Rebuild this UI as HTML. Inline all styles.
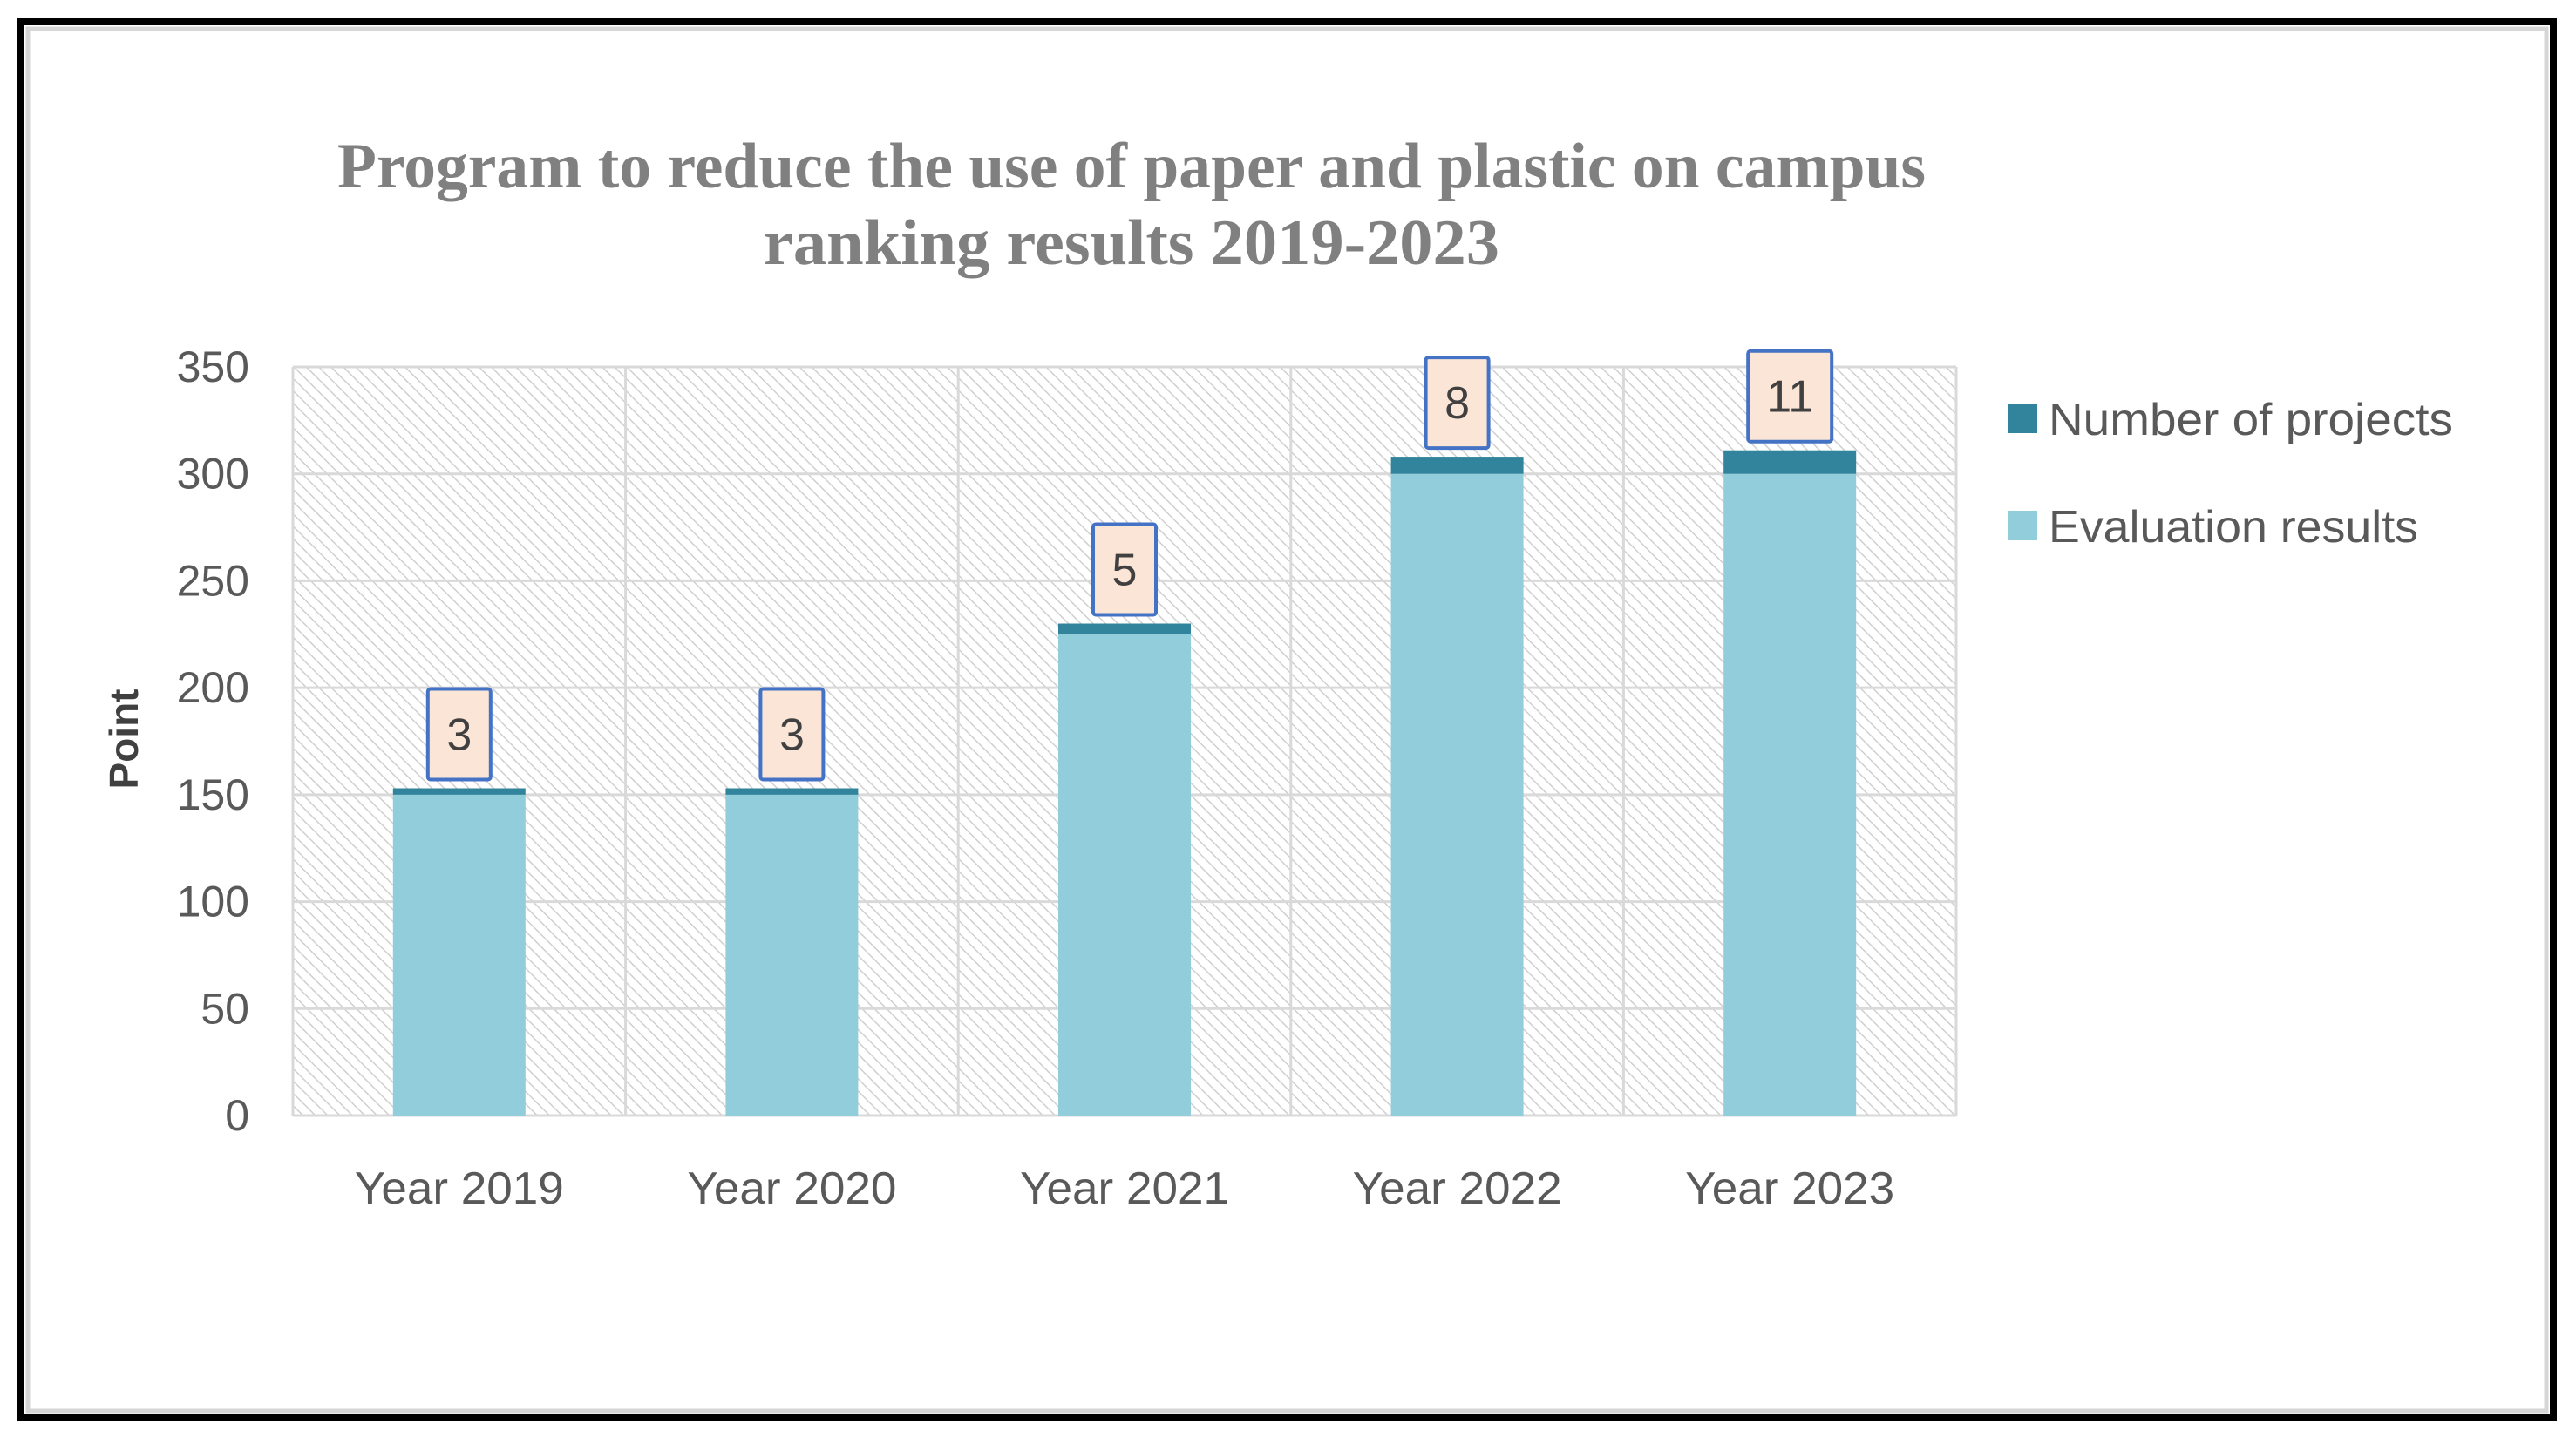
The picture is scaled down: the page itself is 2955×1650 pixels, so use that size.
<!DOCTYPE html>
<html><head><meta charset="utf-8"><style>
html,body{margin:0;padding:0;background:#fff;}
svg{display:block;}
</style></head><body>
<svg id="chart" width="2955" height="1650" viewBox="0 0 2955 1650" xmlns="http://www.w3.org/2000/svg">
<defs>
<pattern id="hatch" patternUnits="userSpaceOnUse" width="10" height="10" patternTransform="rotate(-45)">
<rect width="10" height="10" fill="#fff"/>
<line x1="0" y1="0" x2="0" y2="10" stroke="#cfcfcf" stroke-width="3"/>
</pattern>
</defs>
<rect x="24" y="25" width="2905" height="1602" fill="#fff" stroke="#000" stroke-width="8"/>
<rect x="32" y="33" width="2889" height="1586" fill="none" stroke="#d6d6d6" stroke-width="5"/>
<g font-family="'Liberation Serif', serif" font-weight="bold" font-size="74" fill="#808080" text-anchor="middle">
<text x="1298" y="215" textLength="1822" lengthAdjust="spacingAndGlyphs">Program to reduce the use of paper and plastic on campus</text>
<text x="1298" y="303" textLength="844" lengthAdjust="spacingAndGlyphs">ranking results 2019-2023</text>
</g>
<g id="plot"></g>
<text transform="translate(158,848) rotate(-90)" font-family="'Liberation Sans', sans-serif" font-weight="bold" font-size="46" fill="#404040" text-anchor="middle">Point</text>
<g font-family="'Liberation Sans', sans-serif" font-size="52" fill="#595959">
<g>
<rect x="2303" y="463" width="34" height="34" fill="#31849b"/>
<text x="2350" y="499" textLength="464" lengthAdjust="spacingAndGlyphs">Number of projects</text>
</g>
<g>
<rect x="2303" y="586" width="34" height="34" fill="#92cddc"/>
<text x="2350" y="622" textLength="424" lengthAdjust="spacingAndGlyphs">Evaluation results</text>
</g>
</g>
</svg>
<script>
const categories = ["Year 2019","Year 2020","Year 2021","Year 2022","Year 2023"];
const evaluationResults = [150,150,225,300,300];
const numberOfProjects = [3,3,5,8,11];
const yTicks = [0,50,100,150,200,250,300,350];

const NS = "http://www.w3.org/2000/svg";
const L = 336, R = 2244, T = 421, B = 1280, YMAX = 350;
const bw = (R - L) / categories.length;
const y = v => B - (v / YMAX) * (B - T);
const xc = i => L + bw * (i + 0.5);
const g = document.getElementById('plot');
function mk(tag, attrs, parent) {
  const e = document.createElementNS(NS, tag);
  for (const k in attrs) e.setAttribute(k, attrs[k]);
  (parent || g).appendChild(e);
  return e;
}
const bg = mk('rect', {x: L, y: T, width: R - L, height: B - T, fill: 'url(#hatch)'});


yTicks.forEach(t => {
  const ln = mk('line', {x1: L, x2: R, y1: y(t), y2: y(t), stroke: '#d9d9d9', 'stroke-width': 3});
  
  
  const tx = mk('text', {x: 286, y: y(t) + 17, 'text-anchor': 'end', 'font-family': "'Liberation Sans', sans-serif", 'font-size': 50, fill: '#595959'});
  tx.textContent = t;
  
  
});
for (let i = 0; i <= categories.length; i++) {
  const vx = L + bw * i;
  const ln = mk('line', {x1: vx, x2: vx, y1: T, y2: B, stroke: '#d9d9d9', 'stroke-width': 3});
  
  
}
const barW = 152;
categories.forEach((c, i) => {
  const cx = xc(i);
  const ev = evaluationResults[i], np = numberOfProjects[i];
  const b1 = mk('rect', {x: cx - barW / 2, y: y(ev), width: barW, height: B - y(ev), fill: '#92cddc'});
  
  
  const b2 = mk('rect', {x: cx - barW / 2, y: y(ev + np), width: barW, height: y(ev) - y(ev + np), fill: '#31849b'});
  
  
  const top = y(ev + np);
  const lw = String(np).length > 1 ? 96 : 72;
  const box = mk('rect', {x: cx - lw / 2, y: top - 114, width: lw, height: 104, fill: '#fbe5d6', stroke: '#4472c4', 'stroke-width': 4, rx: 3});
  
  
  const lt = mk('text', {x: cx, y: top - 44, 'text-anchor': 'middle', 'font-family': "'Liberation Sans', sans-serif", 'font-size': 52, fill: '#404040'});
  lt.textContent = np;
  
  
  const xl = mk('text', {x: cx, y: 1381, 'text-anchor': 'middle', 'font-family': "'Liberation Sans', sans-serif", 'font-size': 52, fill: '#595959', textLength: 240, lengthAdjust: 'spacingAndGlyphs'});
  xl.textContent = c;
  
  
});
</script>
</body></html>
